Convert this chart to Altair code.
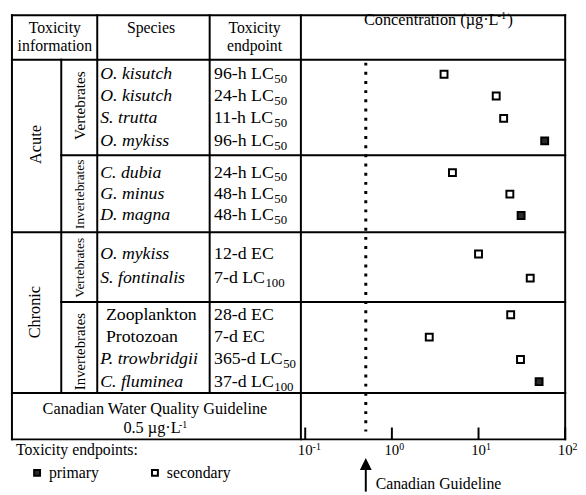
import altair as alt
import pandas as pd

# ---------------- data ----------------
exposure = ["Acute"] * 7 + ["Chronic"] * 6
taxon = (["Vertebrates"] * 4 + ["Invertebrates"] * 3 +
         ["Vertebrates"] * 2 + ["Invertebrates"] * 4)
species = ["O. kisutch", "O. kisutch", "S. trutta", "O. mykiss",
           "C. dubia", "G. minus", "D. magna",
           "O. mykiss", "S. fontinalis",
           "Zooplankton", "Protozoan", "P. trowbridgii", "C. fluminea"]
species_italic = [True] * 9 + [False, False, True, True]
endpoint_main = ["96-h LC", "24-h LC", "11-h LC", "96-h LC",
                 "24-h LC", "48-h LC", "48-h LC",
                 "12-d EC", "7-d LC",
                 "28-d EC", "7-d EC", "365-d LC", "37-d LC"]
endpoint_sub = ["50", "50", "50", "50", "50", "50", "50",
                "", "100", "", "", "50", "100"]
concentration = [4.0, 16.0, 19.5, 58.0,
                 5.0, 23.0, 31.0,
                 10.0, 39.5,
                 23.5, 2.7, 30.5, 50.0]
endpoint_type = ["secondary", "secondary", "secondary", "primary",
                 "secondary", "secondary", "primary",
                 "secondary", "secondary",
                 "secondary", "secondary", "secondary", "primary"]
tick_values = [0.1, 1, 10, 100]
tick_base = ["10", "10", "10", "10"]
tick_exponent = ["-1", "0", "1", "2"]
guideline_value = 0.5
guideline_title = "Canadian Water Quality Guideline"
guideline_text = "0.5 µg·L"
guideline_arrow_label = "Canadian Guideline"
unit_sup = "-1"
legend_title = "Toxicity endpoints:"
legend_types = ["primary", "secondary"]
header_info = ["Toxicity", "information"]
header_species = "Species"
header_endpoint = ["Toxicity", "endpoint"]
header_conc = "Concentration (µg·L"

# ---------------- layout (page pixels) ----------------
OFF = 8
W, H = 578, 487
FONT = "Liberation Serif"


def P(v):
    return v - OFF


TIMES = {" ": 250, "(": 333, ")": 333, "-": 333, ".": 250, "·": 250, "µ": 500,
         "A": 722, "C": 667, "E": 611, "G": 722, "L": 611, "O": 722, "P": 556,
         "Q": 722, "S": 556, "T": 611, "V": 722, "W": 944, "I": 333, "D": 722,
         "a": 444, "b": 500, "c": 444, "d": 500, "e": 444, "f": 333, "g": 500,
         "h": 500, "i": 278, "k": 500, "l": 278, "m": 778, "n": 500, "o": 500,
         "p": 500, "r": 333, "s": 389, "t": 278, "u": 500, "v": 500, "y": 500,
         ":": 278}


def tw(s, size):
    return sum(TIMES.get(c, 500) for c in s) / 1000.0 * size


row_y = [71.7, 93.8, 116.5, 139.3, 171.5, 193.3, 215.0,
         254.0, 278.5, 315.7, 338.3, 361.0, 383.5]
exposure_pos = {"Acute": (36.7, 143.0), "Chronic": (35.5, 313.0)}
taxon_pos = {("Acute", "Vertebrates"): (81.5, 103.5, 15.5),
             ("Acute", "Invertebrates"): (81.5, 193.5, 13.5),
             ("Chronic", "Vertebrates"): (81.5, 268.0, 13.5),
             ("Chronic", "Invertebrates"): (81.5, 353.0, 15.0)}
legend_pos = {"primary": 37.5, "secondary": 157.0}

# table lines: (x1, y1, x2, y2)
lines = [
    (12, 12, 573, 12), (12, 57, 573, 57), (62, 154, 573, 154),
    (12, 232, 573, 232), (62, 302.7, 573, 302.7), (12, 395, 573, 395),
    (12, 442, 573, 442),
    (12, 12, 12, 442), (62, 57, 62, 395), (98.5, 12, 98.5, 395),
    (212.5, 12, 212.5, 395), (305, 12, 305, 442), (573, 12, 573, 442),
]

XSCALE = alt.Scale(type="log", domain=[10 ** -1.05, 100],
                   range=[P(305), P(573)], nice=False)
ONE = pd.DataFrame({"_": [0]})

layers = []


def text(txt, x, y, size=16, align="left", baseline="alphabetic", angle=0,
         italic=False):
    props = dict(text=txt, font=FONT, fontSize=size, align=align,
                 baseline=baseline, color="black")
    if angle:
        props["angle"] = angle
    if italic:
        props["fontStyle"] = "italic"
    return alt.Chart(ONE).mark_text(**props).encode(
        x=alt.value(P(x)), y=alt.value(P(y)))


# table lines
for (x1, y1, x2, y2) in lines:
    layers.append(alt.Chart(ONE).mark_rule(color="black", strokeWidth=2,
                                           strokeCap="square").encode(
        x=alt.value(P(x1)), x2=alt.value(P(x2)),
        y=alt.value(P(y1)), y2=alt.value(P(y2))))

# headers
layers.append(text(header_info[0], 55.5, 30, align="center"))
layers.append(text(header_info[1], 55.5, 48, align="center"))
layers.append(text(header_species, 153, 30, align="center"))
layers.append(text(header_endpoint[0], 258, 30, align="center"))
layers.append(text(header_endpoint[1], 258, 48, align="center"))
cx0 = 369
layers.append(text(header_conc, cx0, 22, size=16.5))
sx = cx0 + tw(header_conc, 16.5)
layers.append(text(unit_sup, sx + 1.5, 16, size=10.5))
layers.append(text(")", sx + tw(unit_sup, 10.5) + 3, 22, size=16.5))

# group labels
seen = []
for e in exposure:
    if e not in seen:
        seen.append(e)
        x, y = exposure_pos[e]
        layers.append(text(e, x, y, size=16.5, align="center",
                           baseline="middle", angle=270))
seen = []
for e, t in zip(exposure, taxon):
    if (e, t) not in seen:
        seen.append((e, t))
        x, y, s = taxon_pos[(e, t)]
        layers.append(text(t, x, y, size=s, align="center",
                           baseline="middle", angle=270))

# rows
df = pd.DataFrame({"species": species, "italic": species_italic,
                   "endpoint": endpoint_main, "sub": endpoint_sub,
                   "conc": concentration, "etype": endpoint_type})
df["y"] = [P(v) for v in row_y]
df["ty"] = df["y"] + 5
df["sub_x"] = [P(217 + tw(m, 18) + 0.5) for m in endpoint_main]
df["sub_y"] = df["ty"] + 4

layers.append(alt.Chart(df[df["italic"]]).mark_text(
    align="left", baseline="alphabetic", font=FONT, fontSize=18,
    fontStyle="italic", color="black").encode(
    x=alt.value(P(101.5)), y=alt.Y("ty:Q", scale=None), text="species:N"))
layers.append(alt.Chart(df[~df["italic"]]).mark_text(
    align="left", baseline="alphabetic", font=FONT, fontSize=18,
    color="black").encode(
    x=alt.value(P(107.3)), y=alt.Y("ty:Q", scale=None), text="species:N"))
layers.append(alt.Chart(df).mark_text(
    align="left", baseline="alphabetic", font=FONT, fontSize=18,
    color="black").encode(
    x=alt.value(P(217)), y=alt.Y("ty:Q", scale=None), text="endpoint:N"))
layers.append(alt.Chart(df[df["sub"] != ""]).mark_text(
    align="left", baseline="alphabetic", font=FONT, fontSize=13,
    color="black").encode(
    x=alt.X("sub_x:Q", scale=None, axis=None),
    y=alt.Y("sub_y:Q", scale=None, axis=None), text="sub:N"))

# guideline dotted line
gdf = pd.DataFrame({"v": [guideline_value]})
layers.append(alt.Chart(gdf).mark_rule(color="black", strokeWidth=3,
                                       strokeDash=[3, 6.3]).encode(
    x=alt.X("v:Q", scale=XSCALE, axis=None),
    y=alt.value(P(60)), y2=alt.value(P(434))))

# data points
fill_scale = alt.Scale(domain=legend_types, range=["#2a2a2a", "white"])
layers.append(alt.Chart(df).mark_point(
    shape="square", filled=True, size=49, stroke="black", strokeWidth=2,
    opacity=1).encode(
    x=alt.X("conc:Q", scale=XSCALE, axis=None),
    y=alt.Y("y:Q", scale=None, axis=None),
    fill=alt.Fill("etype:N", scale=fill_scale, legend=None)))

# axis ticks & labels
tdf = pd.DataFrame({"v": tick_values, "base": tick_base, "exp": tick_exponent})
layers.append(alt.Chart(tdf).mark_rule(color="black", strokeWidth=2).encode(
    x=alt.X("v:Q", scale=XSCALE, axis=None),
    y=alt.value(P(430)), y2=alt.value(P(442))))
layers.append(alt.Chart(tdf).mark_text(
    align="center", baseline="alphabetic", font=FONT, fontSize=15,
    color="black").encode(
    x=alt.X("v:Q", scale=XSCALE, axis=None), y=alt.value(P(458)),
    text="base:N"))
layers.append(alt.Chart(tdf).mark_text(
    align="left", baseline="alphabetic", font=FONT, fontSize=10,
    color="black", dx=7.5).encode(
    x=alt.X("v:Q", scale=XSCALE, axis=None), y=alt.value(P(453)),
    text="exp:N"))

# guideline arrow
layers.append(alt.Chart(gdf).mark_rule(color="black", strokeWidth=2).encode(
    x=alt.X("v:Q", scale=XSCALE, axis=None),
    y=alt.value(P(468)), y2=alt.value(P(495))))
layers.append(alt.Chart(gdf).mark_point(
    shape="M0,-1L1,1L-1,1Z", filled=True, size=144, color="black",
    opacity=1).encode(
    x=alt.X("v:Q", scale=XSCALE, axis=None), y=alt.value(P(467))))
layers.append(alt.Chart(gdf).mark_text(
    text=guideline_arrow_label, align="left", baseline="alphabetic",
    font=FONT, fontSize=16, color="black", dx=10).encode(
    x=alt.X("v:Q", scale=XSCALE, axis=None), y=alt.value(P(492))))

# guideline row
layers.append(text(guideline_title, 157, 416.7, size=16.5, align="center"))
layers.append(text(guideline_text, 125, 436, size=16.5))
layers.append(text(unit_sup, 125 + tw(guideline_text, 16.5) + 1, 430,
                   size=10))

# legend
layers.append(text(legend_title, 16, 458, size=16))
ldf = pd.DataFrame({"etype": legend_types})
for lt in legend_types:
    layers.append(alt.Chart(ldf[ldf["etype"] == lt]).mark_point(
        shape="square", filled=True, size=36, stroke="black", strokeWidth=2,
        opacity=1).encode(
        x=alt.value(P(legend_pos[lt])), y=alt.value(P(476)),
        fill=alt.Fill("etype:N", scale=fill_scale, legend=None)))
    layers.append(alt.Chart(ldf[ldf["etype"] == lt]).mark_text(
        align="left", baseline="alphabetic", font=FONT, fontSize=16,
        color="black").encode(
        x=alt.value(P(legend_pos[lt] + 12)), y=alt.value(P(481)),
        text="etype:N"))

chart = alt.layer(*layers).properties(
    width=W, height=H, padding=0,
    autosize=alt.AutoSizeParams(type="none"),
).resolve_scale(x="independent", y="independent").configure_view(stroke=None)

chart.save("out.html", embed_options={"renderer": "svg", "actions": False})
